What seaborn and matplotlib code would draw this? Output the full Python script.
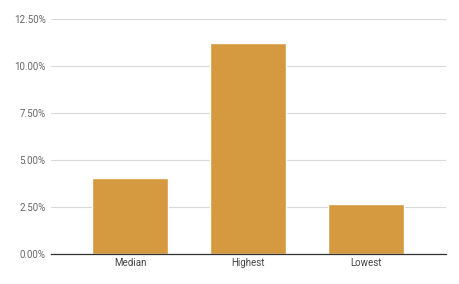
import matplotlib
matplotlib.use("Agg")
import matplotlib.pyplot as plt
import seaborn as sns
import pandas as pd
from matplotlib.ticker import FuncFormatter

categories = ["Median", "Highest", "Lowest"]
values = [4.03, 11.22, 2.68]
yticks = [0, 2.5, 5.0, 7.5, 10.0, 12.5]

sns.set_theme(style="white")
plt.rcParams['font.family'] = ['Roboto', 'DejaVu Sans']

df = pd.DataFrame({"cat": categories, "val": values})

fig = plt.figure(figsize=(4.6, 2.84), dpi=100)
ax = fig.add_axes([51/460, 30/284, (446-51)/460, (254-19.3)/284])
sns.barplot(data=df, x="cat", y="val", color="#D59A3F", saturation=1,
            width=0.644, ax=ax, zorder=3)
ax.set_xlim(-0.672, 2.675)
ax.set_ylim(0, 12.5)
ax.set_yticks(yticks)
ax.yaxis.set_major_formatter(FuncFormatter(lambda v, p: f"{v:.2f}%"))
ax.grid(axis="y", color="#d9d9d9", linewidth=0.8, zorder=0)
ax.set_xlabel("")
ax.set_ylabel("")
for s in ["top", "right", "left"]:
    ax.spines[s].set_visible(False)
ax.spines["bottom"].set_color("#333333")
ax.spines["bottom"].set_linewidth(0.9)
ax.spines["bottom"].set_zorder(4)
ax.tick_params(axis="both", length=0, labelsize=7, pad=4)
ax.tick_params(axis="y", colors="#666666")
ax.tick_params(axis="x", colors="#444444", pad=3)
fig.savefig("out.png", dpi=100)
